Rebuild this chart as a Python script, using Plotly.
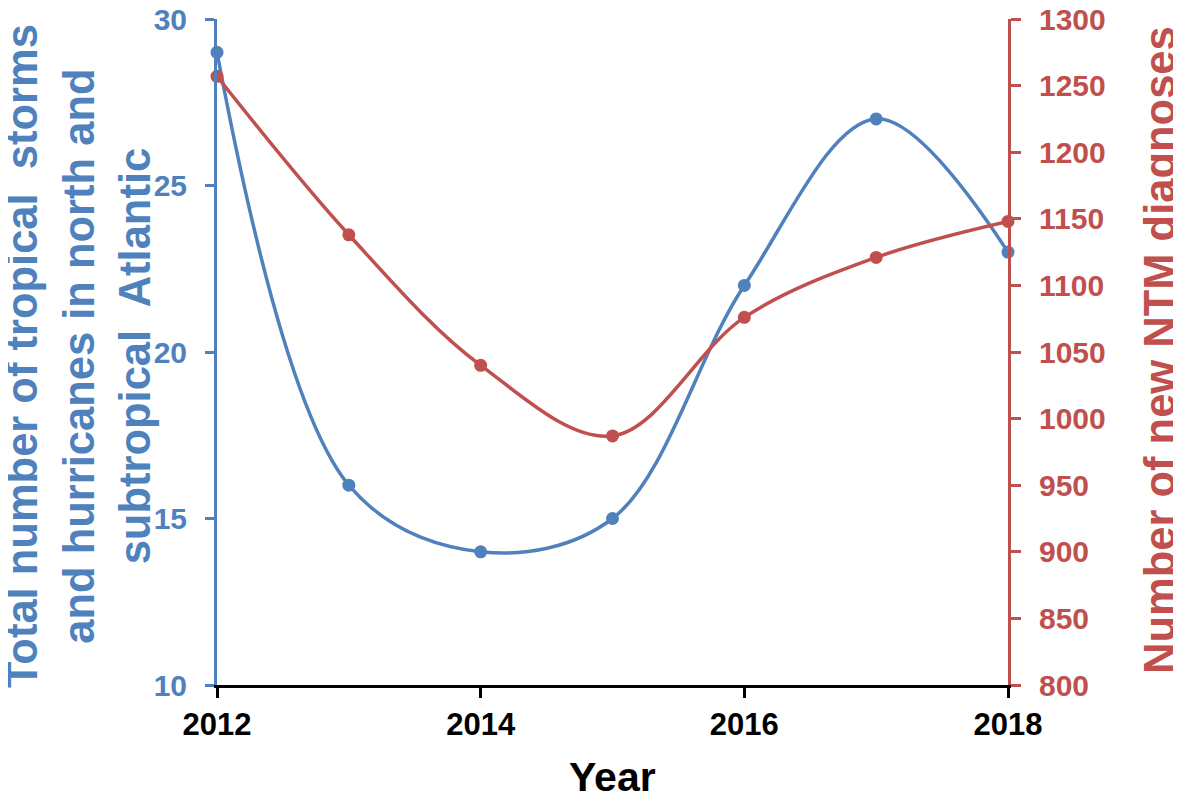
import plotly.graph_objects as go

years = [2012, 2013, 2014, 2015, 2016, 2017, 2018]
storms = [29, 16, 14, 15, 22, 27, 23]
ntm = [1257, 1138, 1040, 987, 1076, 1121, 1148]

left_ticks = [10, 15, 20, 25, 30]
right_ticks = [800, 850, 900, 950, 1000, 1050, 1100, 1150, 1200, 1250, 1300]
x_ticks = [2012, 2014, 2016, 2018]

BLUE = "#4F81BD"
RED = "#C0504D"
FONT = "Liberation Sans, Arial, sans-serif"

OFF = 8  # page body margin
W, H = 1181 - OFF, 797 - OFF
L, T = 217 - OFF, 19 - OFF
PW, PH = 791, 666
R, B = W - L - PW, H - T - PH

def px(x):
    return (x - OFF - L) / PW

def py(y):
    return (T + PH - (y - OFF)) / PH

fig = go.Figure()
fig.add_trace(go.Scatter(
    x=years, y=storms, mode="lines+markers", yaxis="y",
    line=dict(color=BLUE, width=3.5, shape="spline", smoothing=1.0),
    marker=dict(color=BLUE, size=13), showlegend=False, cliponaxis=False))
fig.add_trace(go.Scatter(
    x=years, y=ntm, mode="lines+markers", yaxis="y2",
    line=dict(color=RED, width=3.5, shape="spline", smoothing=1.0),
    marker=dict(color=RED, size=13), showlegend=False, cliponaxis=False))

fig.update_layout(
    width=W, height=H,
    margin=dict(l=L, r=R, t=T, b=B, autoexpand=False),
    paper_bgcolor="white", plot_bgcolor="white",
    font=dict(family=FONT),
    xaxis=dict(range=[2012, 2018], tickvals=x_ticks, ticktext=[str(v) for v in x_ticks],
               showgrid=False, zeroline=False, showline=True, linecolor="black", linewidth=3,
               ticks="outside", ticklen=10, tickwidth=3, tickcolor="black", automargin=False,
               tickfont=dict(family=FONT, size=31, color="black", weight="bold"),
               ticklabelstandoff=0, ticklabeloverflow="allow"),
    xaxis2=dict(range=[2012, 2018], overlaying="x", tickvals=x_ticks, showticklabels=False,
                showgrid=False, zeroline=False, showline=False, automargin=False,
                ticks="inside", ticklen=10, tickwidth=3, tickcolor="black"),
    yaxis=dict(range=[10, 30], tickvals=left_ticks, showgrid=False, zeroline=False,
               showline=True, linecolor=BLUE, linewidth=3, automargin=False,
               ticks="outside", ticklen=9, tickwidth=3, tickcolor=BLUE,
               tickfont=dict(family=FONT, size=30, color=BLUE, weight="bold"),
               ticklabelstandoff=12, ticklabeloverflow="allow"),
    yaxis3=dict(range=[10, 30], overlaying="y", tickvals=left_ticks, showticklabels=False,
                showgrid=False, zeroline=False, showline=False, automargin=False,
                ticks="inside", ticklen=9, tickwidth=3, tickcolor=BLUE),
    yaxis2=dict(range=[800, 1300], overlaying="y", side="right", tickvals=right_ticks,
                showgrid=False, zeroline=False, showline=True, linecolor=RED, linewidth=3,
                ticks="outside", ticklen=10, tickwidth=3, tickcolor=RED, automargin=False,
                tickfont=dict(family=FONT, size=30, color=RED, weight="bold"),
                ticklabelstandoff=12, ticklabeloverflow="allow"),
    yaxis4=dict(range=[800, 1300], overlaying="y", side="right", tickvals=right_ticks,
                showticklabels=False, showgrid=False, zeroline=False, showline=False,
                automargin=False,
                ticks="inside", ticklen=10, tickwidth=3, tickcolor=RED),
)

fig.add_annotation(
    text="Total number of tropical  storms<br>and hurricanes in north and<br>subtropical  Atlantic",
    xref="paper", yref="paper", x=px(78), y=py(356), xanchor="center", yanchor="middle",
    textangle=-90, showarrow=False, align="center",
    font=dict(family=FONT, size=43.5, color=BLUE, weight="bold"))
fig.add_annotation(
    text="Number of new NTM diagnoses",
    xref="paper", yref="paper", x=px(1160), y=py(350), xanchor="center", yanchor="middle",
    textangle=-90, showarrow=False,
    font=dict(family=FONT, size=43.5, color=RED, weight="bold"))
fig.add_annotation(
    text="Year",
    xref="paper", yref="paper", x=px(612), y=py(777), xanchor="center", yanchor="middle",
    showarrow=False,
    font=dict(family=FONT, size=41, color="black", weight="bold"))

fig.write_html("out.html")
